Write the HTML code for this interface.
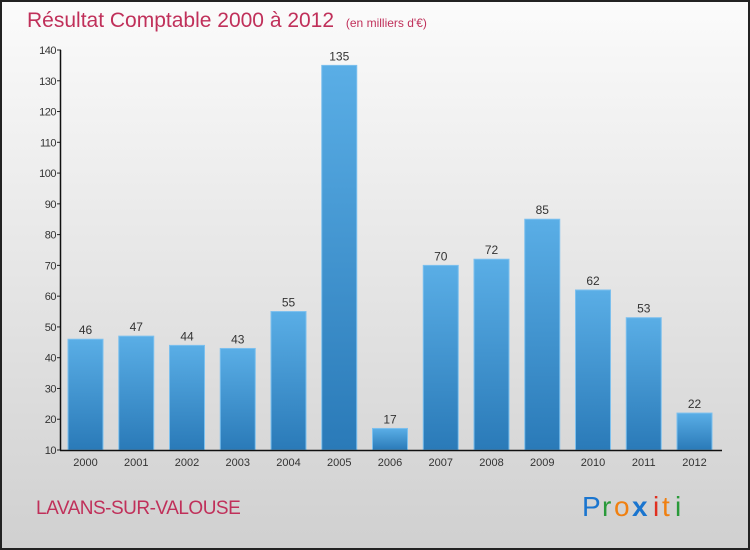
<!DOCTYPE html>
<html><head><meta charset="utf-8"><style>
body{margin:0;width:750px;height:550px;overflow:hidden}
svg{display:block;font-family:"Liberation Sans",sans-serif}
</style></head><body>
<svg id="c" width="750" height="550">
<defs>
<linearGradient id="bg" x1="0" y1="0" x2="0" y2="1"><stop offset="0" stop-color="#fbfbfb"/><stop offset="1" stop-color="#d0d0d0"/></linearGradient>
<linearGradient id="bar" x1="0" y1="0" x2="0" y2="1"><stop offset="0" stop-color="#5aaee6"/><stop offset="1" stop-color="#2a7ab8"/></linearGradient>
</defs>
<rect x="1" y="1" width="748" height="548" fill="url(#bg)" stroke="#222" stroke-width="2"/>
<text x="27" y="27" font-size="21" fill="#c0305a">Résultat Comptable 2000 à 2012 <tspan font-size="12" dx="6">(en milliers d'€)</tspan></text>
<text x="36" y="514" font-size="19" fill="#c0305a" letter-spacing="-0.5">LAVANS-SUR-VALOUSE</text>
<g font-size="28">
<text x="582" y="516" fill="#1a75cf">P</text><text x="602" y="516" fill="#2a9a3a">r</text><text x="614" y="516" fill="#f08010">o</text><text x="632" y="516" fill="#1a75cf" font-weight="bold">x</text><text x="653" y="516" fill="#e03020">i</text><text x="662" y="516" fill="#f08010">t</text><text x="675" y="516" fill="#2a9a3a">i</text>
</g>
<g id="plot"></g>
</svg>
<script>
const categories=["2000","2001","2002","2003","2004","2005","2006","2007","2008","2009","2010","2011","2012"];
const values=[46,47,44,43,55,135,17,70,72,85,62,53,22];
const yTicks=[10,20,30,40,50,60,70,80,90,100,110,120,130,140];
const NS="http://www.w3.org/2000/svg";
const g=document.getElementById('plot');
const y=v=>450-(v-10)*400/130;
const x=i=>85.5+i*50.75;
function mk(t,a,txt){const e=document.createElementNS(NS,t);for(const k in a)e.setAttribute(k,a[k]);if(txt!==undefined)e.textContent=txt;g.appendChild(e);return e;}
yTicks.forEach(v=>{
 const l=mk('line',{x1:57,x2:61,y1:y(v),y2:y(v),stroke:'#222'});
 
 
 const t=mk('text',{x:56,y:y(v)+4,'font-size':11,fill:'#333','text-anchor':'end','letter-spacing':'-0.5'},v);
 
 
});
categories.forEach((c,i)=>{
 const b=mk('rect',{x:x(i)-17.5,y:y(values[i]),width:35,height:450-y(values[i]),fill:'url(#bar)',stroke:'#7cc0ee','stroke-width':1});
 
 
 const v=mk('text',{x:x(i),y:y(values[i])-5,'font-size':12,fill:'#333','text-anchor':'middle'},values[i]);
 
 
 const t=mk('text',{x:x(i),y:466,'font-size':11,fill:'#333','text-anchor':'middle'},c);
 
 
});
const ya=mk('line',{x1:60.5,x2:60.5,y1:y(140),y2:450,stroke:'#111','stroke-width':1.5});


const xa=mk('line',{x1:60,x2:722,y1:450.5,y2:450.5,stroke:'#111','stroke-width':1.5});


</script>
</body></html>
